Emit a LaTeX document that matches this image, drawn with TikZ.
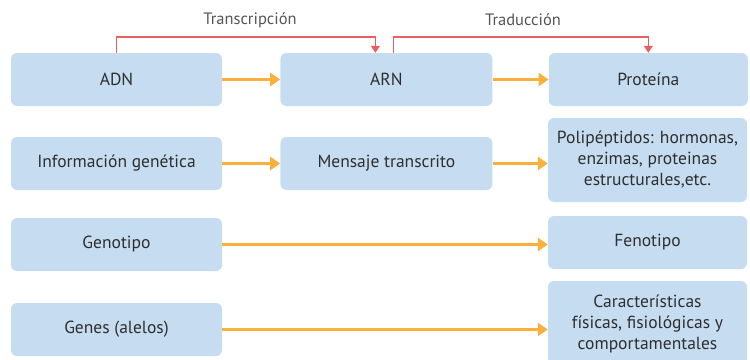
\documentclass[tikz,border=0pt]{standalone}
\usepackage{fontspec}
\setmainfont{PT Sans}
\usetikzlibrary{positioning, arrows.meta}
\definecolor{boxblue}{HTML}{C6DDF1}
\definecolor{textgray}{HTML}{2E2E2E}
\definecolor{taggray}{HTML}{555555}
\definecolor{flowor}{HTML}{F9B03F}
\definecolor{procred}{HTML}{EC5F5F}
\tikzset{
    box/.style = {rectangle, rounded corners = 6pt, fill = boxblue, text = textgray, align = center,
                  font = \fontsize{17.5}{21}\selectfont, inner sep = 2pt, minimum height = 53pt},
    leftbox/.style = {box, minimum width = 211pt},
    midbox/.style = {box, minimum width = 212pt},
    rightbox/.style = {box, minimum width = 199pt},
    flow/.style = {draw = flowor, line width = 3pt, -{Triangle[length = 10pt, width = 13pt]}},
    proc/.style = {draw = procred, line width = 1.4pt, -{Triangle[length = 7pt, width = 9pt]}},
    tag/.style = {text = taggray, font = \fontsize{16.5}{18}\selectfont}
}

\begin{document}
\begin{tikzpicture}[x = 1pt, y = -1pt]
    \useasboundingbox (0,0) rectangle (750,359);
    % row 1
    \node [leftbox] (adn) at (116.5,79.5) {ADN};
    \node [midbox, right = 58pt of adn] (arn) {ARN};
    \node [rightbox, right = 56pt of arn] (prot) {Proteína};
    % row 2
    \node [leftbox] (info) at (116.5,163.5) {Información genética};
    \node [midbox, right = 58pt of info] (msg) {Mensaje transcrito};
    \node [rightbox, minimum height = 84pt] (poli) at (647.5,160) {Polipéptidos: hormonas,\\ enzimas, proteinas\\ estructurales,etc.};
    % row 3
    \node [leftbox] (geno) at (116.5,244.5) {Genotipo};
    \node [rightbox] (feno) at (647.5,242.5) {Fenotipo};
    % row 4
    \node [leftbox] (genes) at (116.5,329.5) {Genes (alelos)};
    \node [rightbox, minimum height = 86pt] (carac) at (647.5,324) {Características\\ físicas, fisiológicas y\\ comportamentales};

    \draw [flow] (adn) -- (arn);
    \draw [flow] (arn) -- (prot);
    \draw [flow] (info) -- (msg);
    \draw [flow] (msg.east) -- (msg.east -| poli.west);
    \draw [flow] (geno.east) -- (geno.east -| feno.west);
    \draw [flow] (genes.east) -- (genes.east -| carac.west);

    \draw [proc] (adn.north) -- ++(0,-16) -| ([xshift = -11pt]arn.north);
    \draw [proc] ([xshift = 7pt]arn.north) -- ++(0,-16) -| (prot.north);
    \node [tag] (transc) at (250,20) {Transcripción};
    \node [tag] (trad) at (523,20) {Traducción};
\end{tikzpicture}
\end{document}
